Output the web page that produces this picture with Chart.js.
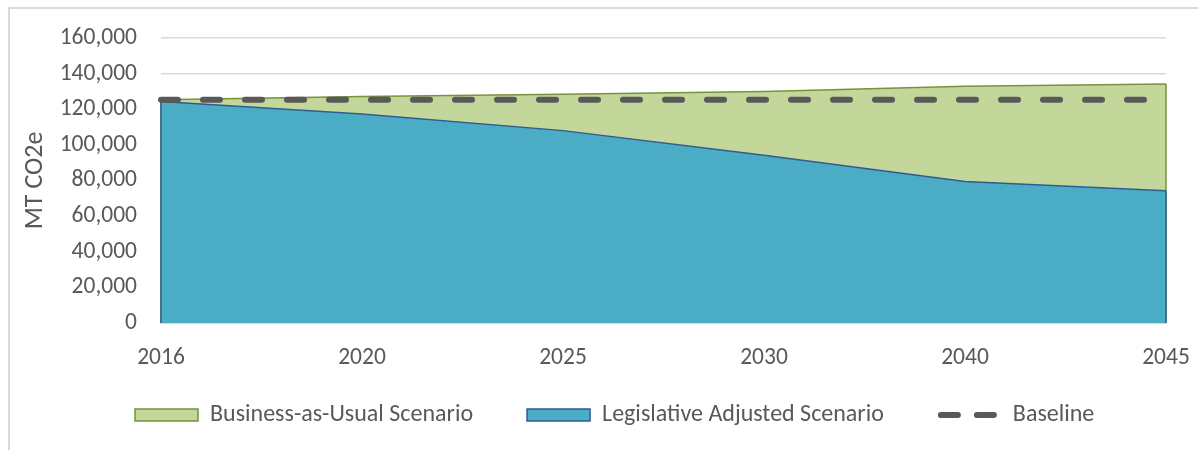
<!DOCTYPE html>
<html>
<head>
<meta charset="utf-8">
<title>Emissions scenarios</title>
<script src="https://cdn.jsdelivr.net/npm/chart.js@4.4.1/dist/chart.umd.min.js"></script>
<style>
  html, body { margin: 0; padding: 0; background: #fff; }
  #wrap { position: relative; width: 1198px; height: 450px; overflow: hidden; }
  #frame {
    position: absolute; left: 8px; top: 7px;
    width: 1400px; height: 600px;
    border: 2px solid #D9D9D9; box-sizing: border-box;
  }
  #emissions { position: absolute; left: 0; top: 0; }
</style>
</head>
<body>
<div id="wrap">
  <div id="frame"></div>
  <canvas id="emissions" width="1198" height="450"></canvas>
</div>
<script>
// MT CO2e by year
const years = ['2016', '2020', '2025', '2030', '2040', '2045'];
const businessAsUsual = [125300, 127200, 128400, 130000, 132900, 134200];
const legislativeAdjusted = [124300, 117300, 108000, 94200, 79500, 74300];
const baseline = [125300, 125300, 125300, 125300, 125300, 125300];
const yMax = 160000;
const yStep = 20000;

const textGrey = '#595959';
Chart.defaults.font.family = 'Carlito, Calibri, Lato, sans-serif';
Chart.defaults.color = textGrey;

// Excel outlines the whole area shape, so add the vertical sides
const areaEdges = {
    id: 'areaEdges',
    afterDatasetDraw(chart, args) {
        const ds = chart.data.datasets[args.index];
        if (!ds.fill) return;
        const pts = args.meta.data;
        const y0 = chart.scales.y.getPixelForValue(0);
        const ctx = chart.ctx;
        ctx.save();
        ctx.strokeStyle = ds.borderColor;
        ctx.lineWidth = ds.borderWidth;
        [pts[0], pts[pts.length - 1]].forEach(p => {
            ctx.beginPath();
            ctx.moveTo(p.x, p.y);
            ctx.lineTo(p.x, y0);
            ctx.stroke();
        });
        ctx.restore();
    }
};

// move the legend row in and up; label padding is also the item gap
const legendInset = {
    id: 'legendInset',
    afterLayout(chart) {
        const lg = chart.legend;
        lg.left = 81;
        lg.top = 349;
        lg.bottom = 445;
    }
};

const ctx = document.getElementById('emissions').getContext('2d');
const chart = new Chart(ctx, {
    type: 'line',
    data: {
        labels: years,
        datasets: [{
            label: 'Business-as-Usual Scenario',
            data: businessAsUsual,
            backgroundColor: '#C4D79B',
            borderColor: '#77933C',
            borderWidth: 1.5,
            fill: 'origin',
            pointRadius: 0,
            tension: 0,
            order: 2
        }, {
            label: 'Legislative Adjusted Scenario',
            data: legislativeAdjusted,
            backgroundColor: '#4BACC6',
            borderColor: '#2F5C8F',
            borderWidth: 1.5,
            fill: 'origin',
            pointRadius: 0,
            tension: 0,
            order: 1
        }, {
            label: 'Baseline',
            data: baseline,
            borderColor: '#595959',
            backgroundColor: '#595959',
            borderWidth: 6,
            borderDash: [17, 25],
            borderCapStyle: 'round',
            fill: false,
            pointRadius: 0,
            tension: 0,
            order: 0
        }]
    },
    options: {
        responsive: false,
        animation: false,
        layout: {
            padding: { left: 20, right: 32, top: 38, bottom: 15 }
        },
        scales: {
            x: {
                z: 1,
                offset: false,
                grid: { display: false },
                border: { color: '#D9D9D9', width: 2 },
                ticks: {
                    padding: 13,
                    maxRotation: 0,
                    autoSkip: false,
                    font: { size: 23.5 }
                },
                afterFit(scale) {
                    scale.height = 52;
                    scale.paddingLeft = 0;
                    scale.paddingRight = 0;
                }
            },
            y: {
                min: 0,
                max: yMax,
                grid: { color: '#D9D9D9', lineWidth: 1.5, drawTicks: false },
                border: { display: false },
                ticks: {
                    stepSize: yStep,
                    padding: 24,
                    font: { size: 23.5 },
                    callback: v => v.toLocaleString('en-US')
                },
                title: {
                    display: true,
                    text: 'MT CO2e',
                    padding: { top: 0, bottom: 0 },
                    font: { size: 26 }
                },
                afterFit(scale) {
                    scale.width = 141;
                    scale.paddingTop = 0;
                    scale.paddingBottom = 0;
                }
            }
        },
        plugins: {
            legend: {
                position: 'bottom',
                align: 'start',
                maxHeight: 60,
                labels: {
                    usePointStyle: true,
                    pointStyleWidth: 63,
                    boxHeight: 12,
                    padding: 54,
                    font: { size: 24 },
                    generateLabels(chart) {
                        const items = Chart.defaults.plugins.legend.labels.generateLabels(chart);
                        items.sort((a, b) => a.datasetIndex - b.datasetIndex);
                        items.forEach(item => {
                            const ds = chart.data.datasets[item.datasetIndex];
                            const isArea = !!ds.fill;
                            item.fillStyle = ds.backgroundColor;
                            item.strokeStyle = ds.borderColor;
                            item.lineWidth = isArea ? 1.5 : 6;
                            item.lineDash = isArea ? [] : [17, 19];
                            item.lineDashOffset = isArea ? 0 : 33;
                            item.lineCap = isArea ? 'butt' : 'round';
                            item.pointStyle = isArea ? 'rect' : 'line';
                        });
                        return items;
                    }
                }
            },
            tooltip: { enabled: false }
        }
    },
    plugins: [areaEdges, legendInset]
});
</script>
</body>
</html>
